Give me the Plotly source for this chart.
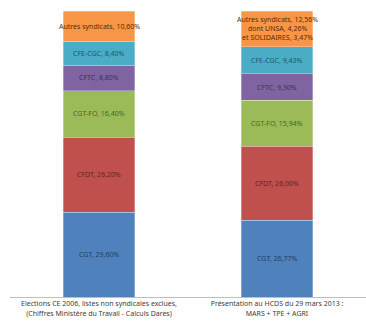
import plotly.graph_objects as go

categories = ["Elections CE 2006, listes non syndicales exclues,<br>(Chiffres Ministère du Travail - Calculs Dares)",
              "Présentation au HCDS du 29 mars 2013 :<br>MARS + TPE + AGRI"]
series = ["CGT", "CFDT", "CGT-FO", "CFTC", "CFE-CGC", "Autres syndicats"]
values = {
    "CGT": [29.60, 26.77],
    "CFDT": [26.20, 26.00],
    "CGT-FO": [16.40, 15.94],
    "CFTC": [8.80, 9.30],
    "CFE-CGC": [8.40, 9.43],
    "Autres syndicats": [10.60, 12.56],
}
labels = {
    "CGT": ["CGT, 29,60%", "CGT, 26,77%"],
    "CFDT": ["CFDT, 26,20%", "CFDT, 26,00%"],
    "CGT-FO": ["CGT-FO, 16,40%", "CGT-FO, 15,94%"],
    "CFTC": ["CFTC, 8,80%", "CFTC, 9,30%"],
    "CFE-CGC": ["CFE-CGC, 8,40%", "CFE-CGC, 9,43%"],
    "Autres syndicats": ["Autres syndicats, 10,60%",
                         "Autres syndicats, 12,56%<br>dont UNSA, 4,26%<br>et SOLIDAIRES, 3,47%"],
}
colors = {"CGT": "#4F81BD", "CFDT": "#C0504D", "CGT-FO": "#9BBB59",
          "CFTC": "#8064A2", "CFE-CGC": "#4BACC6", "Autres syndicats": "#F79646"}
text_colors = {"CGT": "#243F60", "CFDT": "#632423", "CGT-FO": "#4F6228",
               "CFTC": "#3F3151", "CFE-CGC": "#205867", "Autres syndicats": "#5c2c04"}

fig = go.Figure()
base = [0.0, 0.0]
annotations = []
for s in series:
    fig.add_trace(go.Bar(x=[0, 1], y=values[s], name=s,
                         marker=dict(color=colors[s], line=dict(color="rgba(255,255,255,0.6)", width=0.5))))
    for i in range(2):
        mid = base[i] + values[s][i] / 2
        annotations.append(dict(x=i, y=mid, xref="x", yref="y", text=labels[s][i],
                                showarrow=False, font=dict(size=7, color=text_colors[s],
                                family="Liberation Sans Narrow, Arial Narrow, Noto Sans")))
        base[i] += values[s][i]

fig.update_layout(
    barmode="stack", bargap=0.6, width=366, height=322,
    margin=dict(l=10, r=0, t=11, b=25),
    paper_bgcolor="white", plot_bgcolor="white",
    showlegend=False, annotations=annotations,
    font=dict(family="Liberation Sans Narrow, Arial Narrow, Noto Sans", size=7, color="#404040"),
)
fig.update_xaxes(tickvals=[0, 1], ticktext=categories, range=[-0.5, 1.5],
                 showline=True, linecolor="#BFBFBF", linewidth=1, ticks="",
                 tickfont=dict(size=7, color="#404040"), showgrid=False)
fig.update_yaxes(range=[0, 100], visible=False, showgrid=False)

fig.write_html("out.html")
